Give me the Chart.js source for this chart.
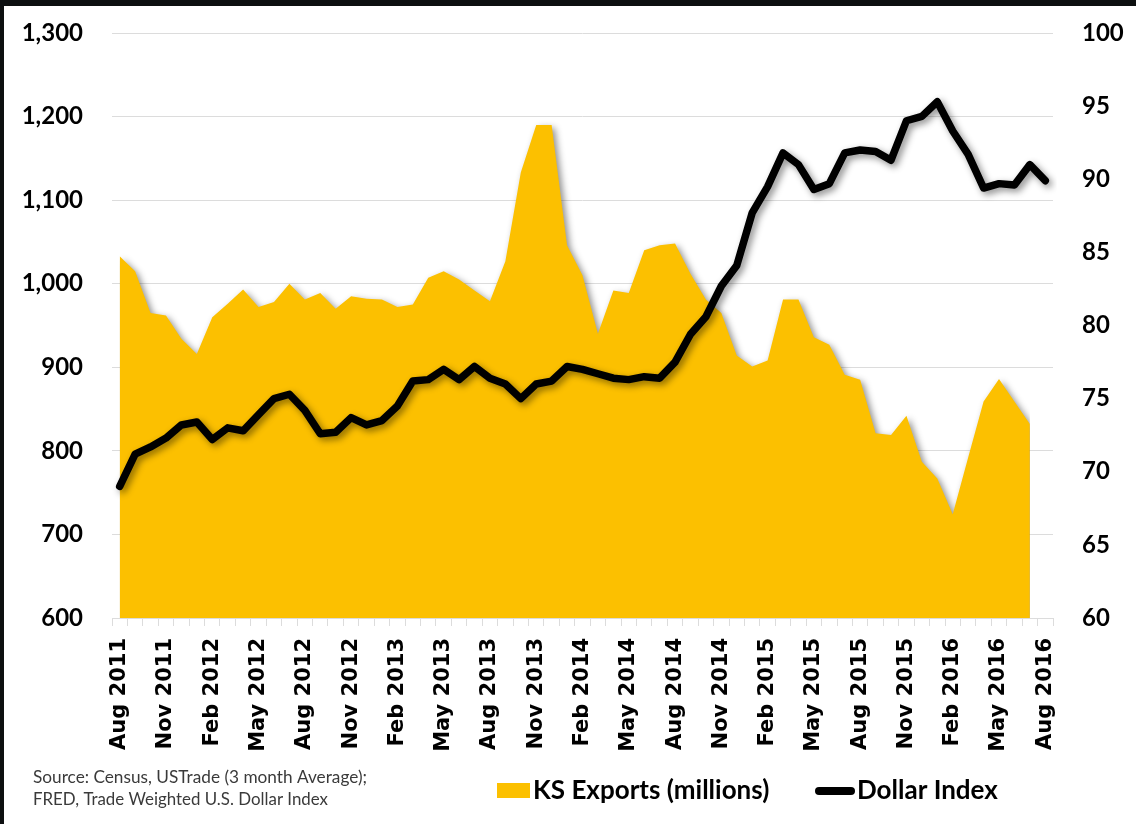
<!DOCTYPE html>
<html>
<head>
<meta charset="utf-8">
<script src="https://cdn.jsdelivr.net/npm/chart.js@4.4.1/dist/chart.umd.min.js"></script>
<style>
  html, body { margin: 0; padding: 0; background: #0d0f10; }
  #wrap { position: absolute; left: 4px; top: 6px; width: 1132px; height: 818px; background: #ffffff; }
  canvas { display: block; }
</style>
</head>
<body>
<div id="wrap"><canvas id="c" width="1132" height="818"></canvas></div>
<script>
// ---- data ----
const months = [
  'Aug 2011','Sep 2011','Oct 2011','Nov 2011','Dec 2011','Jan 2012','Feb 2012','Mar 2012','Apr 2012','May 2012','Jun 2012','Jul 2012',
  'Aug 2012','Sep 2012','Oct 2012','Nov 2012','Dec 2012','Jan 2013','Feb 2013','Mar 2013','Apr 2013','May 2013','Jun 2013','Jul 2013',
  'Aug 2013','Sep 2013','Oct 2013','Nov 2013','Dec 2013','Jan 2014','Feb 2014','Mar 2014','Apr 2014','May 2014','Jun 2014','Jul 2014',
  'Aug 2014','Sep 2014','Oct 2014','Nov 2014','Dec 2014','Jan 2015','Feb 2015','Mar 2015','Apr 2015','May 2015','Jun 2015','Jul 2015',
  'Aug 2015','Sep 2015','Oct 2015','Nov 2015','Dec 2015','Jan 2016','Feb 2016','Mar 2016','Apr 2016','May 2016','Jun 2016','Jul 2016',
  'Aug 2016'
];
const ksExports = [
  1033, 1015, 965, 962, 934, 916, 960, 976, 993, 972,
  978, 1000, 981, 989, 970, 985, 982, 981, 972, 975,
  1007, 1015, 1005, 992, 979, 1027, 1133, 1190, 1190, 1046,
  1010, 940, 992, 989, 1040, 1046, 1048, 1012, 981, 965,
  914, 901, 908, 981, 981, 936, 927, 891, 885, 821,
  819, 842, 787, 767, 724, 792, 859, 886, 859, 832,
  null
];
const dollarIndex = [
  69.0, 71.2, 71.7, 72.3, 73.2, 73.4, 72.2, 73.0, 72.8, 73.9,
  75.0, 75.3, 74.2, 72.6, 72.7, 73.7, 73.2, 73.5, 74.5, 76.2,
  76.3, 77.0, 76.3, 77.2, 76.4, 76.0, 75.0, 76.0, 76.2, 77.2,
  77.0, 76.7, 76.4, 76.3, 76.5, 76.4, 77.5, 79.4, 80.6, 82.7,
  84.1, 87.7, 89.5, 91.8, 91.0, 89.3, 89.7, 91.8, 92.0, 91.9,
  91.3, 94.0, 94.3, 95.3, 93.3, 91.7, 89.4, 89.7, 89.6, 91.0,
  89.9
];
const seriesNames = ['KS Exports (millions)', 'Dollar Index'];
const sourceLines = ['Source: Census, USTrade (3 month Average);', 'FRED, Trade Weighted U.S. Dollar Index'];

const GOLD = '#FCC000';
const GRID = '#dcdcdc';

const shadowPlugin = {
  id: 'shadowPlugin',
  beforeDatasetsDraw(chart) {
    const c = chart.ctx;
    c.save();
    c.shadowColor = 'rgba(0,0,0,0.45)';
    c.shadowBlur = 7;
    c.shadowOffsetX = 3;
    c.shadowOffsetY = 3;
  },
  afterDatasetsDraw(chart) { chart.ctx.restore(); }
};

const footerPlugin = {
  id: 'footerPlugin',
  afterDraw(chart) {
    const c = chart.ctx;
    c.save();
    // source text
    c.fillStyle = '#3a3a3a';
    c.font = '18px Lato';
    c.textBaseline = 'middle';
    c.textAlign = 'left';
    c.fillText(sourceLines[0], 29, 771, 334);
    c.fillText(sourceLines[1], 29, 793, 295);
    // legend: area swatch
    c.fillStyle = GOLD;
    c.fillRect(493, 777, 33, 15);
    c.fillStyle = '#000';
    c.font = 'bold 26px Lato';
    c.fillText(seriesNames[0], 529, 785, 253);
    // legend: line
    c.strokeStyle = '#000';
    c.lineWidth = 8;
    c.lineCap = 'round';
    c.beginPath();
    c.moveTo(815, 785);
    c.lineTo(847, 785);
    c.stroke();
    c.fillText(seriesNames[1], 853, 785, 150);
    c.restore();
  }
};

function fixVertical(width) {
  return function(scale) {
    scale.width = width;
    scale.paddingTop = 0;
    scale.paddingBottom = 0;
  };
}

new Chart(document.getElementById('c'), {
  data: {
    labels: months,
    datasets: [
      {
        type: 'line',
        label: seriesNames[1],
        data: dollarIndex,
        yAxisID: 'y1',
        borderColor: '#000000',
        borderWidth: 7.5,
        borderCapStyle: 'round',
        borderJoinStyle: 'round',
        pointRadius: 0,
        tension: 0,
        fill: false,
        order: 0
      },
      {
        type: 'line',
        label: seriesNames[0],
        data: ksExports,
        yAxisID: 'y',
        borderWidth: 0,
        borderColor: GOLD,
        backgroundColor: GOLD,
        pointRadius: 0,
        tension: 0,
        fill: 'start',
        order: 1
      }
    ]
  },
  options: {
    responsive: false,
    animation: false,
    devicePixelRatio: 1,
    layout: { padding: { top: 27, left: 0, right: 0, bottom: 56 } },
    plugins: { legend: { display: false }, tooltip: { enabled: false } },
    scales: {
      x: {
        type: 'category',
        offset: true,
        grid: { display: true, drawOnChartArea: false, drawTicks: true, tickLength: 8, color: GRID, offset: true },
        border: { display: true, color: GRID, width: 1 },
        ticks: {
          autoSkip: false,
          minRotation: 90,
          maxRotation: 90,
          padding: 12,
          color: '#000',
          font: { family: 'DejaVu Sans', weight: 'bold', size: 21 },
          callback: function(v, i) { return i % 3 === 0 ? months[i] : ''; }
        },
        afterFit(scale) { scale.height = 150; }
      },
      y: {
        position: 'left',
        min: 600,
        max: 1300,
        grid: { color: GRID, lineWidth: 1, drawTicks: false },
        border: { display: false },
        ticks: {
          stepSize: 100,
          padding: 29,
          color: '#000',
          font: { family: 'Lato', weight: 'bold', size: 24 },
          callback: (v) => v.toLocaleString('en-US')
        },
        afterFit: fixVertical(108)
      },
      y1: {
        position: 'right',
        min: 60,
        max: 100,
        grid: { drawOnChartArea: false, drawTicks: false },
        border: { display: false },
        ticks: {
          stepSize: 5,
          padding: 29,
          color: '#000',
          font: { family: 'Lato', weight: 'bold', size: 24 }
        },
        afterFit: fixVertical(83)
      }
    }
  },
  plugins: [shadowPlugin, footerPlugin]
});
</script>
</body>
</html>
